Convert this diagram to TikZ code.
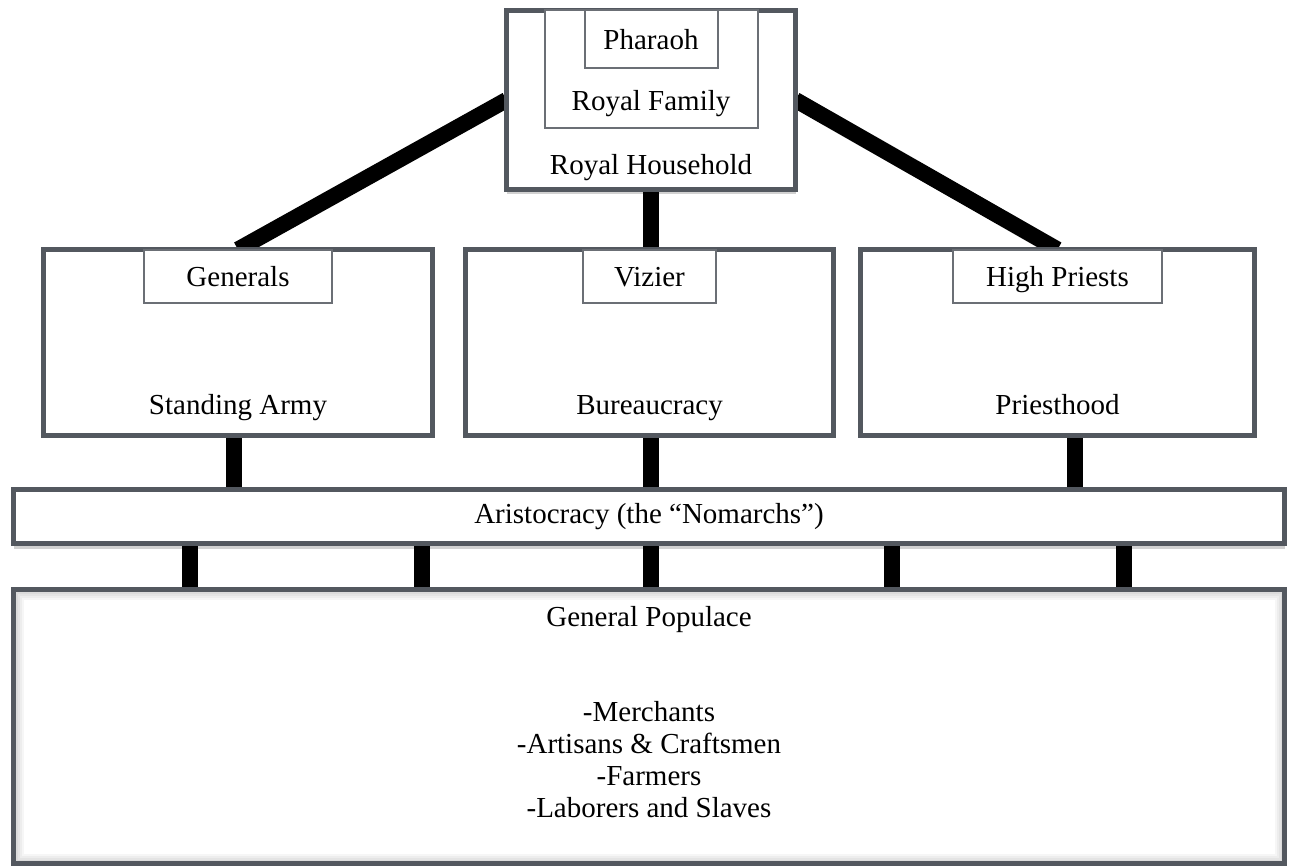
\documentclass[tikz,border=0pt]{standalone}
\usepackage{fontspec}
\setmainfont{Liberation Serif}
\usepackage{xcolor}
\definecolor{frame}{HTML}{53585F}
\definecolor{subframe}{HTML}{6B6F75}
\usetikzlibrary{positioning, backgrounds, shadows}

\begin{document}
\begin{tikzpicture}[x=0.5pt, y=-0.5pt, font=\fontsize{14.5}{16}\selectfont]
  \tikzstyle{rankbox}=[rectangle, draw=frame, line width=2.5pt, fill=white,
    inner sep=0pt, outer sep=0pt]
  \tikzstyle{headbox}=[rectangle, draw=subframe, line width=1pt, fill=white,
    inner sep=0pt, outer sep=0pt, anchor=north, text height=10pt, text depth=0pt]
  \tikzstyle{softshadow}=[drop shadow={shadow xshift=0pt, shadow yshift=-2.5pt,
    opacity=0.18, fill=black}]
  \tikzstyle{innershadow}=[path picture={\foreach \k in {1,...,5}
    \draw[black, opacity=0.035, line width=2*\k pt]
    (path picture bounding box.south west) rectangle (path picture bounding box.north east);}]
  \tikzstyle{tie}=[line width=8pt, black]
  \useasboundingbox (0,0) rectangle (1289,866);

  \node[rankbox, softshadow, minimum width=144.5pt, minimum height=89.5pt,
    label={[anchor=base, yshift=7.25pt]south:Royal Household}] (household) at (651,100) {};
  \node[rectangle, draw=subframe, line width=1pt, fill=white, inner sep=0pt, outer sep=0pt,
    anchor=north, minimum width=106.5pt, minimum height=59pt,
    label={[anchor=base, yshift=9pt]south:Royal Family}] (family) at (household.north) {};
  \node[headbox, minimum width=66.5pt, minimum height=28.75pt] (pharaoh) at (family.north) {Pharaoh};

  \node[rankbox, minimum width=194.5pt, minimum height=93pt,
    label={[anchor=base, yshift=10.5pt]south:Standing Army}] (army) at (238,342.5) {};
  \node[headbox, minimum width=94pt, minimum height=26.75pt] (generals) at (army.north) {Generals};
  \node[rankbox, minimum width=184pt, minimum height=93pt,
    label={[anchor=base, yshift=10.5pt]south:Bureaucracy}] (bureau) at (649.5,342.5) {};
  \node[headbox, minimum width=66.5pt, minimum height=26.75pt] (vizier) at (bureau.north) {Vizier};
  \node[rankbox, minimum width=197pt, minimum height=93pt,
    label={[anchor=base, yshift=10.5pt]south:Priesthood}] (priest) at (1057.5,342.5) {};
  \node[headbox, minimum width=104.5pt, minimum height=26.75pt] (highpriests) at (priest.north) {High Priests};

  \node[rankbox, softshadow, minimum width=635.5pt, minimum height=27pt] (aristo) at (649,516.5)
    {Aristocracy (the “Nomarchs”)};
  \node[rankbox, innershadow, minimum width=635.5pt, minimum height=137pt,
    label={[anchor=base, yshift=-18.25pt]north:General Populace},
    label={[anchor=center, inner sep=0pt, align=center, yshift=-16.5pt]center:{-Merchants\\-Artisans \& Craftsmen\\-Farmers\\-Laborers and Slaves}}]
    (populace) at (649,726.5) {};

  \begin{scope}[on background layer]
    \draw[tie] (household.west) -- (army.north);
    \draw[tie] (household.south) -- (household.south |- bureau.north);
    \draw[tie] (household.east) -- (priest.north);
    \draw[tie] ([xshift=-2.25pt]army.south) -- ([xshift=-2.25pt]army.south |- aristo.north);
    \draw[tie] ([xshift=0.75pt]bureau.south) -- ([xshift=0.75pt]bureau.south |- aristo.north);
    \draw[tie] ([xshift=8.75pt]priest.south) -- ([xshift=8.75pt]priest.south |- aristo.north);
    \draw[tie] ([xshift=-229.5pt]aristo.south) -- ([xshift=-229.5pt]aristo.south |- populace.north);
    \draw[tie] ([xshift=-113.5pt]aristo.south) -- ([xshift=-113.5pt]aristo.south |- populace.north);
    \draw[tie] ([xshift=1pt]aristo.south) -- ([xshift=1pt]aristo.south |- populace.north);
    \draw[tie] ([xshift=121.5pt]aristo.south) -- ([xshift=121.5pt]aristo.south |- populace.north);
    \draw[tie] ([xshift=237.5pt]aristo.south) -- ([xshift=237.5pt]aristo.south |- populace.north);
  \end{scope}
\end{tikzpicture}
\end{document}
